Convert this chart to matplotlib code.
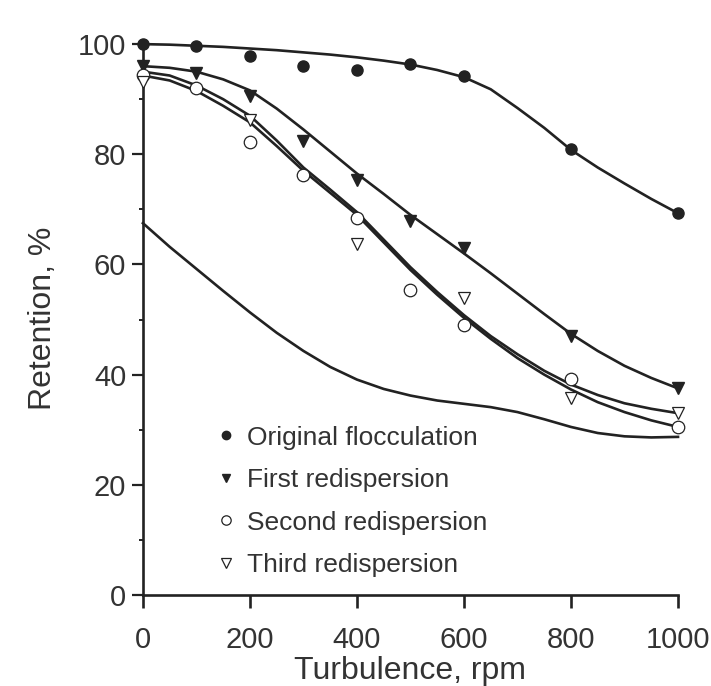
import matplotlib
matplotlib.use("Agg")
import matplotlib.pyplot as plt
from matplotlib.ticker import MultipleLocator

plt.rcParams["font.family"] = ["Liberation Sans", "DejaVu Sans"]

INK = "#222222"
TXT = "#333333"

# measured points (turbulence rpm -> retention %)
orig_rpm = [0, 100, 200, 300, 400, 500, 600, 800, 1000]
orig_val = [100, 99.6, 97.8, 96.0, 95.3, 96.4, 94.2, 81.0, 69.3]
first_rpm = [0, 100, 200, 300, 400, 500, 600, 800, 1000]
first_val = [96.0, 94.8, 90.6, 82.4, 75.3, 67.8, 63.0, 47.0, 37.5]
second_rpm = [0, 100, 200, 300, 400, 500, 600, 800, 1000]
second_val = [94.4, 92.0, 82.3, 76.2, 68.4, 55.4, 49.0, 39.2, 30.5]
third_rpm = [0, 200, 400, 600, 800, 1000]
third_val = [93.2, 86.3, 63.8, 54.0, 35.7, 33.0]

# fitted curves, every 50 rpm
curve_rpm = [0, 50, 100, 150, 200, 250, 300, 350, 400, 450, 500,
             550, 600, 650, 700, 750, 800, 850, 900, 950, 1000]
curve_orig = [100, 99.9, 99.7, 99.5, 99.2, 98.9, 98.5, 98.1, 97.6, 97.0, 96.3,
              95.3, 94.0, 91.8, 88.4, 84.8, 80.8, 77.6, 74.7, 71.9, 69.3]
curve_first = [96.0, 95.7, 95.0, 93.6, 91.6, 88.3, 84.5, 80.5, 76.5, 72.8, 69.0,
               65.5, 62.0, 58.4, 54.7, 51.0, 47.4, 44.3, 41.6, 39.4, 37.5]
curve_third = [95.0, 94.3, 92.5, 90.0, 87.0, 82.5, 77.6, 73.6, 69.5, 64.5, 59.5,
               55.0, 50.8, 47.0, 43.7, 40.7, 38.2, 36.3, 34.8, 33.8, 33.0]
curve_second = [94.3, 93.4, 91.5, 88.8, 85.8, 81.5, 77.0, 73.0, 69.0, 64.0, 59.0,
                54.5, 50.3, 46.5, 43.0, 40.0, 37.3, 35.0, 33.2, 31.7, 30.5]
curve_lower = [67.5, 63.2, 59.2, 55.2, 51.3, 47.6, 44.3, 41.4, 39.1, 37.4, 36.2,
               35.3, 34.7, 34.1, 33.2, 31.9, 30.5, 29.4, 28.8, 28.6, 28.7]

labels = ["Original flocculation", "First redispersion",
          "Second redispersion", "Third redispersion"]

fig = plt.figure(figsize=(7.11, 6.86), dpi=100)
ax = fig.add_axes([0.201, 0.1327, 0.7526, 0.807])

for c in [curve_orig, curve_first, curve_third, curve_second, curve_lower]:
    ax.plot(curve_rpm, c, "-", color=INK, lw=1.9, clip_on=False, zorder=2)

ax.plot(orig_rpm, orig_val, "o", ms=8, color=INK, ls="none",
        clip_on=False, zorder=3, label=labels[0])
ax.plot(first_rpm, first_val, "v", ms=8.5, color=INK, ls="none",
        clip_on=False, zorder=3, label=labels[1])
ax.plot(second_rpm, second_val, "o", ms=9, mfc="white", mec=INK, mew=0.9,
        ls="none", clip_on=False, zorder=3, label=labels[2])
ax.plot(third_rpm, third_val, "v", ms=9, mfc="white", mec=INK, mew=0.9,
        ls="none", clip_on=False, zorder=3, label=labels[3])

ax.set_xlim(0, 1000)
ax.set_ylim(0, 100.5)
ax.xaxis.set_major_locator(MultipleLocator(200))
ax.yaxis.set_minor_locator(MultipleLocator(10))
ax.set_yticks([0, 20, 40, 60, 80, 100])

for s in ["top", "right"]:
    ax.spines[s].set_visible(False)
for s in ["left", "bottom"]:
    ax.spines[s].set_linewidth(1.9)
    ax.spines[s].set_color(INK)

ax.tick_params(axis="x", which="major", direction="out", length=9, width=1.9,
               color=INK, labelsize=21, labelcolor=TXT, pad=13)
ax.tick_params(axis="y", which="major", direction="out", length=8, width=1.6,
               color=INK, labelsize=21, labelcolor=TXT, pad=4)
ax.tick_params(axis="y", which="minor", direction="out", length=3, width=1.4,
               color=INK)

ax.set_xlabel("Turbulence, rpm", fontsize=23, color=TXT, labelpad=2)
ax.set_ylabel("Retention, %", fontsize=23, color=TXT, labelpad=14)

leg = ax.legend(loc="upper left", bbox_to_anchor=(0.12, 0.325), frameon=False,
                fontsize=19, handlelength=0.6, handletextpad=0.5,
                labelspacing=0.7, borderaxespad=0, markerscale=0.75)
for t in leg.get_texts():
    t.set_color(TXT)

fig.savefig("out.png", dpi=100, facecolor="white")
